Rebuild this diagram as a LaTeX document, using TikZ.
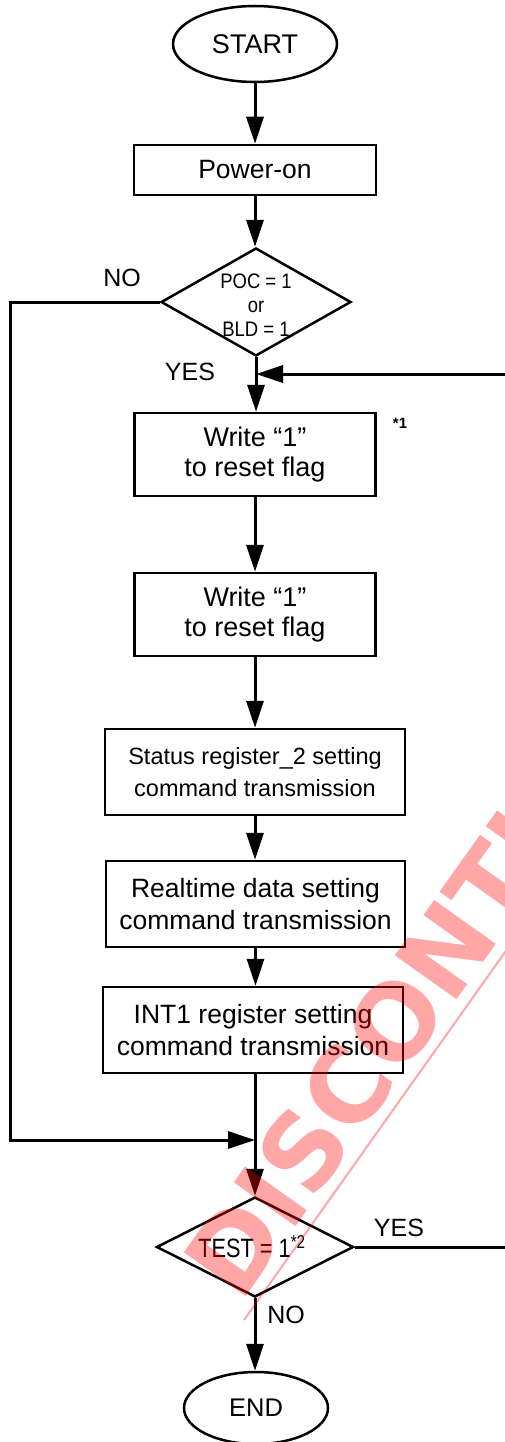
\documentclass[tikz,border=0pt]{standalone}
\usepackage{fontspec}
\setmainfont{Liberation Sans}
\newfontfamily\wmfont{DejaVu Sans}
\usetikzlibrary{shapes.geometric,arrows.meta}
\begin{document}
\begin{tikzpicture}[x=1pt,y=-1pt,
  box/.style={draw,line width=2.5pt,inner sep=0pt,align=center,rectangle},
  term/.style={draw,line width=2.5pt,inner sep=0pt,ellipse,font=\fontsize{26}{30}\selectfont},
  dec/.style={draw,line width=2.5pt,inner sep=0pt,diamond},
  dtext/.style={inner sep=0pt,align=center},
  arr/.style={line width=3pt,-{Triangle[length=27pt,width=17pt]}},
  lbl/.style={inner sep=0pt,font=\fontsize{25}{28}\selectfont},
  fA/.style={font=\fontsize{27}{30}\selectfont},
  fB/.style={font=\fontsize{23.5}{32}\selectfont},
  fC/.style={font=\fontsize{26.5}{32}\selectfont}
]
\useasboundingbox (0,0) rectangle (505,1442);
\clip (0,0) rectangle (505,1442);
% nodes
\node[term,font=\fontsize{27}{30}\selectfont,minimum width=164pt,minimum height=76pt] (start) at (255,44) {START};
\node[box,font=\fontsize{26.5}{30}\selectfont,minimum width=242pt,minimum height=50pt] (power) at (255,170) {Power-on};
\node[dec,minimum width=190pt,minimum height=108pt] (d1) at (256,302) {};
\node[dtext] (d1t) at (256,308)
  {\scalebox{0.88}[1]{\fontsize{21}{24}\selectfont\begin{tabular}{@{}c@{}}POC = 1\\or\\BLD = 1\end{tabular}}};
\node[box,fA,minimum width=241pt,minimum height=83pt] (w1) at (255,454.5) {Write “1”\\to reset flag};
\node[box,fA,minimum width=241pt,minimum height=83pt] (w2) at (255,614.5) {Write “1”\\to reset flag};
\node[box,fB,minimum width=300pt,minimum height=86pt] (st) at (255,772) {Status register\_2 setting\\command transmission};
\node[box,fC,minimum width=299pt,minimum height=86pt] (rt) at (255.5,904) {Realtime data setting\\command transmission};
\node[box,fC,minimum width=300pt,minimum height=86pt] (it) at (253,1030) {INT1 register setting\\command transmission};
\node[dec,minimum width=197pt,minimum height=100pt] (d2) at (255,1247) {};
\node[dtext] (d2t) at (252,1247)
  {\scalebox{0.82}[1]{\fontsize{26.5}{30}\selectfont TEST = 1\textsuperscript{*2}}};
\node[term,font=\fontsize{25.5}{30}\selectfont,minimum width=144pt,minimum height=72pt] (end) at (256,1408) {END};
% labels
\node[lbl] (no1) at (122,278) {NO};
\node[lbl] (yes1) at (190,372) {YES};
\node[inner sep=0pt,font=\fontsize{15}{17}\selectfont\bfseries] (n1) at (400,423) {*1};
\node[lbl] (yes2) at (399,1228) {YES};
\node[lbl] (no2) at (286,1315) {NO};
% coordinates
\coordinate (j1) at (256,374);
\coordinate (j2) at (255,1140);
\coordinate (rr) at (520,1247);
\coordinate (ll) at (10,302);
% connectors
\draw[arr] (start) -- (power);
\draw[arr] (power.south) -- (power.south |- d1.north);
\draw[arr] (d1.south) -- (d1.south |- w1.north);
\draw[arr] (w1) -- (w2);
\draw[arr] (w2) -- (st);
\draw[arr] (st) -- (st.south |- rt.north);
\draw[arr] (rt.south) -- (rt.south |- it.north);
\draw[arr] (it.south -| d2.north) -- (d2.north);
\draw[arr] (d2) -- (d2.south |- end.north);
\draw[arr] (d1.west) -- (ll) |- (j2);
\draw[arr] (d2.east) -- (rr) |- (j1);
% watermark
\node[anchor=base west,rotate=54.6,inner sep=0pt,text=red,text opacity=0.35,
  font=\wmfont\fontsize{104}{104}\selectfont\bfseries] (wm) at (240,1305) {DISCONTINUED};
\coordinate (wa) at (244,1320);
\coordinate (wb) at (530,917);
\draw[red,opacity=0.35,line width=2pt] (wa) -- (wb);
\end{tikzpicture}
\end{document}
